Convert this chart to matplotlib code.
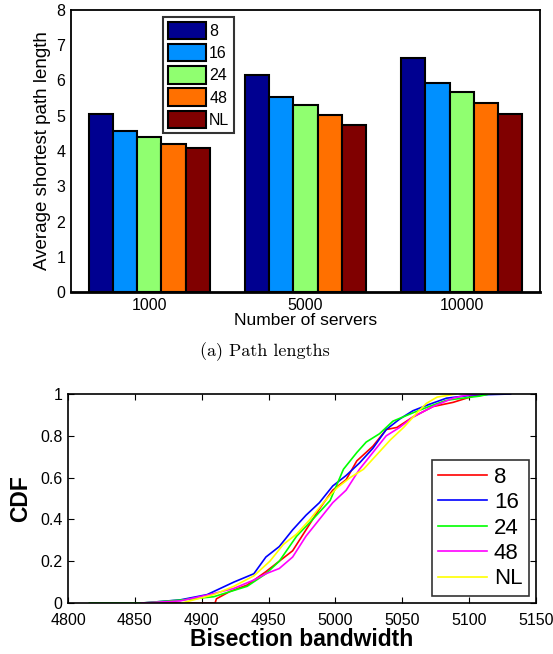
import numpy as np
import matplotlib.pyplot as plt

plt.rcParams['font.family'] = ['Liberation Sans', 'DejaVu Sans']

# bar chart: average shortest path length
servers = ['1000', '5000', '10000']
series = ['8', '16', '24', '48', 'NL']
path_len = {
    '8':  [5.05, 6.15, 6.63],
    '16': [4.58, 5.54, 5.94],
    '24': [4.41, 5.30, 5.68],
    '48': [4.19, 5.03, 5.37],
    'NL': [4.09, 4.75, 5.04],
}
bar_colors = ['#000090', '#0090ff', '#90ff70', '#ff7000', '#800000']

# CDF curves of bisection bandwidth
cdf_x = {
    '8':  [4860, 4910, 4911, 4921, 4934, 4948, 4958, 4968, 4978, 4988, 4998, 5008, 5016, 5028, 5038, 5046, 5058, 5073, 5088, 5103, 5115],
    '16': [4856, 4884, 4904, 4924, 4939, 4948, 4958, 4968, 4978, 4988, 4998, 5008, 5018, 5028, 5038, 5048, 5058, 5070, 5083, 5103, 5131],
    '24': [4816, 4855, 4884, 4909, 4934, 4948, 4958, 4971, 4983, 4996, 5006, 5016, 5023, 5033, 5043, 5058, 5070, 5083, 5095, 5108, 5115],
    '48': [4855, 4884, 4909, 4924, 4939, 4948, 4958, 4968, 4978, 4988, 4998, 5008, 5018, 5028, 5038, 5048, 5058, 5073, 5088, 5098, 5108],
    'NL': [4885, 4909, 4924, 4939, 4951, 4961, 4971, 4981, 4991, 5001, 5011, 5021, 5031, 5041, 5051, 5061, 5068, 5076, 5090],
}
cdf_y = {
    '8':  [0.0, 0.0, 0.02, 0.055, 0.086, 0.15, 0.20, 0.25, 0.35, 0.45, 0.54, 0.59, 0.68, 0.75, 0.83, 0.84, 0.89, 0.94, 0.96, 0.99, 1.0],
    '16': [0.0, 0.015, 0.04, 0.10, 0.14, 0.22, 0.27, 0.35, 0.42, 0.48, 0.56, 0.61, 0.67, 0.74, 0.83, 0.88, 0.92, 0.95, 0.98, 0.995, 1.0],
    '24': [0.0, 0.0, 0.014, 0.03, 0.08, 0.14, 0.20, 0.32, 0.40, 0.49, 0.64, 0.72, 0.77, 0.81, 0.87, 0.91, 0.94, 0.97, 0.98, 0.99, 1.0],
    '48': [0.0, 0.01, 0.045, 0.07, 0.11, 0.14, 0.165, 0.22, 0.32, 0.40, 0.48, 0.54, 0.64, 0.72, 0.80, 0.84, 0.89, 0.94, 0.98, 0.995, 1.0],
    'NL': [0.0, 0.04, 0.08, 0.13, 0.20, 0.28, 0.33, 0.40, 0.48, 0.55, 0.60, 0.64, 0.71, 0.78, 0.84, 0.91, 0.955, 0.985, 1.0],
}
line_colors = ['#ff0000', '#0000ff', '#00ff00', '#ff00ff', '#ffff00']

fig = plt.figure(figsize=(5.53, 6.54), dpi=100)
W, H = 553, 654

# --- (a) path lengths ---
ax1 = fig.add_axes([71 / W, 1 - 292 / H, 469 / W, 282 / H])
pos = np.arange(1, len(servers) + 1)
bw = 0.155
for i, s in enumerate(series):
    ax1.bar(pos + (i - 2) * bw, path_len[s], width=bw, color=bar_colors[i],
            edgecolor='black', linewidth=1.5, label=s, zorder=2)
ax1.set_xlim(0.5, 3.5)
ax1.set_ylim(0, 8)
ax1.set_xticks(pos)
ax1.set_xticklabels(servers)
ax1.set_yticks(range(0, 9))
ax1.tick_params(direction='in', length=0, labelsize=11.5, pad=4)
ax1.set_xlabel('Number of servers', fontsize=12.5, labelpad=0)
ax1.set_ylabel('Average shortest path length', fontsize=13.5, labelpad=4)
for sp in ax1.spines.values():
    sp.set_linewidth(1.3)
ax1.spines['bottom'].set_linewidth(2)
leg1 = ax1.legend(loc='upper left', bbox_to_anchor=(0.196, 0.975),
                  fontsize=11.5, frameon=True, fancybox=False, edgecolor='black',
                  handlelength=2.4, handleheight=1.3, handletextpad=0.2,
                  labelspacing=0.3, borderpad=0.3, borderaxespad=0)
leg1.get_frame().set_linewidth(1.5)

fig.text(265 / W, 1 - 352 / H, '(a) Path lengths', family='cmr10',
         fontsize=13, ha='center', va='center')

# --- (b) bisection bandwidth CDF ---
ax2 = fig.add_axes([68 / W, 1 - 603 / H, 468 / W, 209 / H])
for i, s in enumerate(series):
    ax2.plot(cdf_x[s], cdf_y[s], color=line_colors[i], linewidth=1.2, label=s)
ax2.set_xlim(4800, 5150)
ax2.set_ylim(0, 1)
ax2.set_xticks(range(4800, 5151, 50))
ax2.set_yticks([0, 0.2, 0.4, 0.6, 0.8, 1])
ax2.set_yticklabels(['0', '0.2', '0.4', '0.6', '0.8', '1'])
ax2.tick_params(direction='in', length=4, labelsize=11.5, top=True, right=True)
ax2.tick_params(axis='x', pad=7)
ax2.tick_params(axis='y', pad=4)
ax2.set_xlabel('Bisection bandwidth', fontsize=16.5, fontweight='bold', labelpad=0)
ax2.set_ylabel('CDF', fontsize=16.5, fontweight='bold', labelpad=6)
for sp in ax2.spines.values():
    sp.set_linewidth(1.2)
leg2 = ax2.legend(loc='lower right', bbox_to_anchor=(0.985, 0.033),
                  fontsize=16, frameon=True, fancybox=False, edgecolor='black',
                  handlelength=2.2, handletextpad=0.3, labelspacing=0.2,
                  borderpad=0.3, borderaxespad=0)
leg2.get_frame().set_linewidth(1.2)

fig.savefig('out.png', dpi=100)
